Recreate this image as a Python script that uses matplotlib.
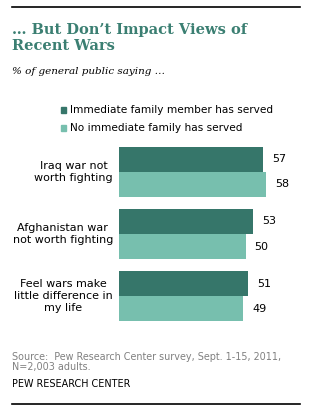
import matplotlib.pyplot as plt
import numpy as np

categories = ["Iraq war not\nworth fighting",
              "Afghanistan war\nnot worth fighting",
              "Feel wars make\nlittle difference in\nmy life"]
family_served = [57, 53, 51]
no_family_served = [58, 50, 49]
series_names = ["Immediate family member has served",
                "No immediate family has served"]

DARK = "#36766a"
LIGHT = "#77bfae"
TEAL_TITLE = "#3b7f72"

W, H = 330, 405
fig = plt.figure(figsize=(W / 100, H / 100), dpi=100)


def px(x, y):
    # pixel position (from top-left) to figure fraction
    return x / W, 1 - y / H


# rules at top and bottom
fig.add_artist(plt.Line2D([12 / W, 300 / W], [1 - 7 / H, 1 - 7 / H], color="black", lw=1.2))
fig.add_artist(plt.Line2D([12 / W, 300 / W], [1 - 404 / H, 1 - 404 / H], color="black", lw=1.2))

# title
fig.text(*px(12, 23), "\u2026 But Don\u2019t Impact Views of\nRecent Wars", ha="left", va="top",
         fontsize=10.5, fontweight="bold", family="DejaVu Serif", color=TEAL_TITLE,
         linespacing=1.15)
fig.text(*px(12, 67), "% of general public saying \u2026", ha="left", va="top",
         fontsize=7.5, style="italic", family="DejaVu Serif", color="black")

# legend
fig.patches.append(plt.Rectangle(px(61, 113), 5 / W, 6 / H, color=DARK, transform=fig.transFigure))
fig.patches.append(plt.Rectangle(px(61, 131), 5 / W, 6 / H, color=LIGHT, transform=fig.transFigure))
fig.text(*px(70, 110), series_names[0], ha="left", va="center", fontsize=7.6, color="black")
fig.text(*px(70, 128), series_names[1], ha="left", va="center", fontsize=7.6, color="black")

# bars
ax_left, ax_top, ax_bottom = 119, 140, 328
ax = fig.add_axes([ax_left / W, 1 - ax_bottom / H, (W - ax_left) / W, (ax_bottom - ax_top) / H])
unit = 2.534  # pixels per percentage point
ax.set_xlim(0, (W - ax_left) / unit)
ax.set_ylim(2.516, -0.516)
ax.axis("off")

y = np.arange(len(categories))
h = 25 / 62
ax.barh(y - h / 2, family_served, height=h, color=DARK)
ax.barh(y + h / 2, no_family_served, height=h, color=LIGHT)

for i in range(len(categories)):
    ax.text(family_served[i] + 3.5, y[i] - h / 2, str(family_served[i]),
            ha="left", va="center", fontsize=8)
    ax.text(no_family_served[i] + 3.5, y[i] + h / 2, str(no_family_served[i]),
            ha="left", va="center", fontsize=8)
    ax.text(-2.4, y[i], categories[i], ha="right", va="center", fontsize=8,
            multialignment="center", linespacing=1.25)

# footnote
fig.text(*px(12, 352), "Source:  Pew Research Center survey, Sept. 1-15, 2011,\nN=2,003 adults.",
         ha="left", va="top", fontsize=6.9, color="#808080", linespacing=1.0)
fig.text(*px(12, 384), "PEW RESEARCH CENTER", ha="left", va="center", fontsize=6.9, color="black")

fig.savefig("out.png", dpi=100)
